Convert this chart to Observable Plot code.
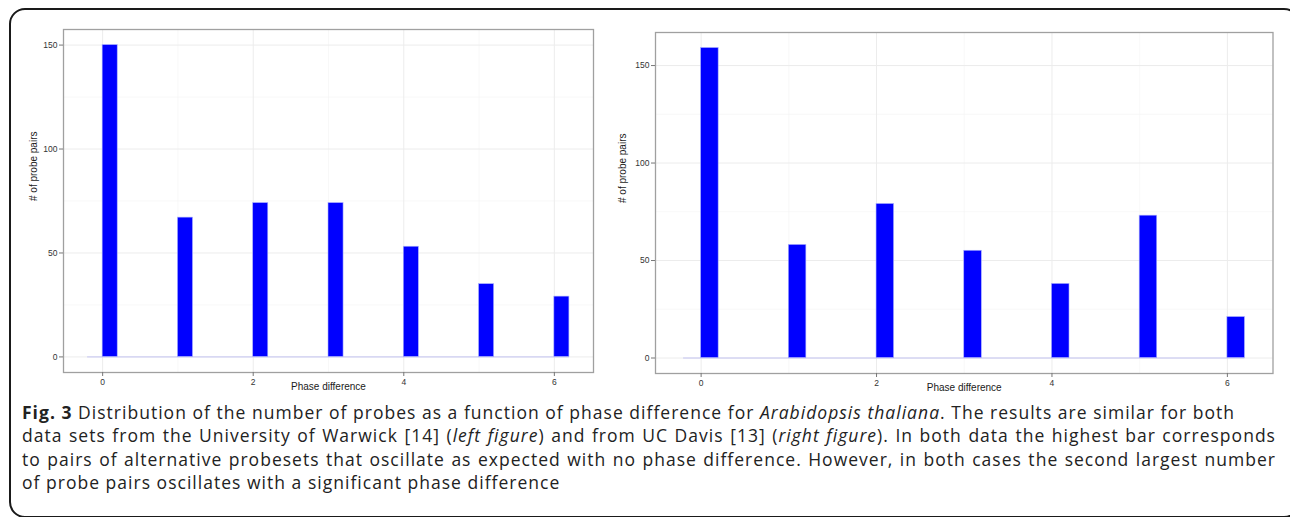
<!DOCTYPE html>
<html>
<head>
<meta charset="utf-8">
<script src="https://cdn.jsdelivr.net/npm/d3@7"></script>
<script src="https://cdn.jsdelivr.net/npm/@observablehq/plot@0.6"></script>
<style>
  html, body { margin: 0; padding: 0; background: #fff; }
  body { width: 1290px; height: 517px; position: relative; overflow: hidden; }
  #frame { position: absolute; left: 9px; top: 8px; width: 1291px; height: 510px; box-sizing: border-box;
           border: 2px solid #1a1a1a; border-radius: 16px; }
  #left { position: absolute; left: 0; top: 0; }
  #right { position: absolute; left: 600px; top: 0; }
  #caption { position: absolute; left: 22px; top: 401px; width: 1254px; font-family: "Open Sans", sans-serif;
             font-size: 17.5px; line-height: 23.3px; color: #222; }
  #caption .ln { white-space: nowrap; height: 23.3px; }
  #caption .just { text-align: justify; text-align-last: justify; }
</style>
</head>
<body>
<div id="frame"></div>
<div id="left"></div>
<div id="right"></div>
<div id="caption">
  <div class="ln" id="l1"><b>Fig. 3</b> Distribution of the number of probes as a function of phase difference for <i>Arabidopsis thaliana</i>. The results are similar for both</div>
  <div class="ln just">data sets from the University of Warwick [14] (<i>left figure</i>) and from UC Davis [13] (<i>right figure</i>). In both data the highest bar corresponds</div>
  <div class="ln just">to pairs of alternative probesets that oscillate as expected with no phase difference. However, in both cases the second largest number</div>
  <div class="ln">of probe pairs oscillates with a significant phase difference</div>
</div>
<script>
// ---- data ----
const phases = [0, 1, 2, 3, 4, 5, 6];
const warwickCounts = [150, 67, 74, 74, 53, 35, 29];
const davisCounts = [159, 58, 79, 55, 38, 73, 21];
const xTicks = [0, 2, 4, 6];
const xMinor = [1, 3, 5];
const yTicks = [0, 50, 100, 150];
const yMinor = [25, 75, 125];
const xLabel = "Phase difference";
const yLabel = "# of probe pairs";

const binWidth = 0.2;

function panel(counts, cfg) {
  const data = phases.map((p, i) => ({phase: p, count: counts[i]}));
  const xlo = d3.min(phases) - binWidth, xhi = d3.max(phases) + binWidth;
  const xpad = (xhi - xlo) * 0.05;
  const ymax = d3.max(counts);
  return Plot.plot({
    width: cfg.width,
    height: 400,
    marginLeft: cfg.ml,
    marginRight: cfg.mr,
    marginTop: cfg.mt,
    marginBottom: 400 - cfg.mb,
    style: {fontFamily: "'Liberation Sans', Arial, sans-serif", fontSize: "8.5px", background: "transparent", color: "#333"},
    x: {domain: [xlo - xpad, xhi + xpad]},
    y: {domain: [-0.05 * ymax, 1.05 * ymax]},
    marks: [
      Plot.ruleY(yMinor, {stroke: "#f3f3f3", strokeWidth: 0.6}),
      Plot.ruleX(xMinor, {stroke: "#f3f3f3", strokeWidth: 0.6}),
      Plot.ruleY(yTicks, {stroke: "#ececec", strokeWidth: 1}),
      Plot.ruleX(xTicks, {stroke: "#ececec", strokeWidth: 1}),
      Plot.ruleY([0], {x1: xlo, x2: xhi, stroke: "#c4c4f2", strokeWidth: 1}),
      Plot.rectY(data, {x1: "phase", x2: d => d.phase + binWidth, y1: 0, y2: "count",
                        fill: "#0000ff", stroke: "#aab0ff", strokeWidth: 0.6}),
      Plot.frame({stroke: "#a0a0a0", strokeWidth: 1.3}),
      Plot.axisY(yTicks, {tickSize: 4, tickPadding: 2, label: null, fill: "#333", stroke: "#777", fontSize: 8.5}),
      Plot.axisX(xTicks, {tickSize: 4, tickPadding: 2, label: null, fill: "#333", stroke: "#777", fontSize: 8.5}),
      Plot.text([yLabel], {frameAnchor: "left", dx: cfg.ydx, rotate: -90, fontSize: 10, fill: "#1a1a1a"}),
      Plot.text([xLabel], {frameAnchor: "bottom", dy: 17.5, fontSize: 10, fill: "#1a1a1a"})
    ]
  });
}

document.getElementById("left").append(panel(warwickCounts, {width: 600, ml: 63, mr: 7, mt: 29, mb: 372, ydx: -30}));
document.getElementById("right").append(panel(davisCounts, {width: 690, ml: 55, mr: 17.5, mt: 32, mb: 373, ydx: -33}));

// fit caption letter-spacing so the first line spans its width in the reference
const cap = document.getElementById("caption");
const l1 = document.getElementById("l1");
l1.style.display = "inline-block";
const w = l1.getBoundingClientRect().width;
const nChars = l1.textContent.length;
cap.style.letterSpacing = ((1213 - w) / nChars) + "px";
l1.style.display = "block";
</script>
</body>
</html>
